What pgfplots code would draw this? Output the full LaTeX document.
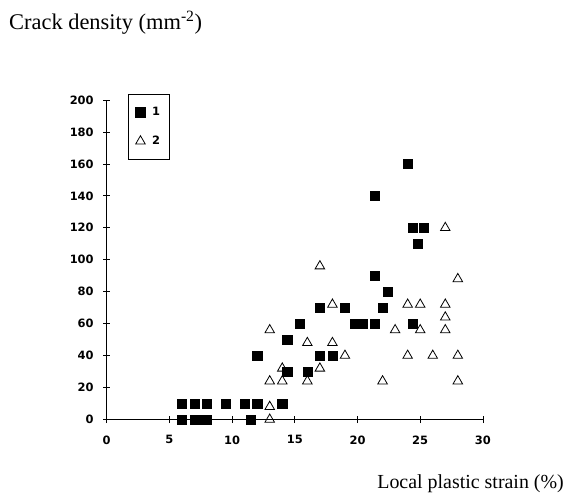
\documentclass[border=0pt]{standalone}
\usepackage{fontspec}
\setmainfont{Liberation Serif}
\newfontfamily\tickfont{DejaVu Sans}
\usepackage{pgfplots}
\pgfplotsset{compat=1.18}
\begin{document}
\begin{tikzpicture}
\useasboundingbox (0,0) rectangle (570bp,493bp);
\begin{axis}[
  at={(106.7bp,73.5bp)}, anchor=origin,
  x=12.54bp, y=1.5975bp,
  xmin=0, xmax=30, ymin=0, ymax=200,
  axis lines=left,
  axis line style={-, line width=0.8bp},
  xtick={0,5,...,30}, ytick={0,20,...,200},
  tick align=center, major tick length=7bp,
  tick style={line width=0.7bp, black},
  /pgf/number format/assume math mode=true,
  ticklabel style={font=\tickfont\bfseries\fontsize{11.5}{13}\selectfont},
  xticklabel style={yshift=-9bp},
  yticklabel style={xshift=-6bp},
  clip=false,
  legend style={at={(0.0574,1.0188)}, anchor=north west, draw=black, line width=0.8bp,
    font=\tickfont\bfseries\fontsize{11.5}{13}\selectfont,
    inner xsep=7bp, inner ysep=11bp, row sep=15bp, cells={anchor=west}},
  legend cell align=left,
]
\addplot[only marks, mark=square*, mark size=4.6bp, mark options={fill=black, draw=black}] coordinates {
(6,0)(7,0)(7.5,0)(8,0)(11.5,0)
(6,10)(7,10)(8,10)(9.5,10)(11,10)(12,10)(14,10)
(12,40)(14.4,30)(14.4,50)(15.4,60)(16,30)(17,40)(17,70)(18,40)(19,70)
(19.8,60)(20.4,60)(21.4,60)(21.4,140)(21.4,90)(22,70)(22.4,80)
(24,160)(24.4,120)(25.3,120)(24.8,110)(24.4,60)
};
\addlegendentry{\hspace{5bp}1\hspace{6bp}}
\addplot[only marks, mark=triangle, mark size=5.5bp, mark options={draw=black, line width=0.8bp, fill=white}] coordinates {
(13,56)(13,24)(13,8)(13,0)(14,32)(14,24)(16,48)(16,24)(17,96)(17,32)
(18,72)(18,48)(19,40)(22,24)(23,56)(24,72)(24,40)(25,72)(25,56)(26,40)
(27,120)(27,72)(27,64)(27,56)(28,88)(28,40)(28,24)
};
\addlegendentry{\hspace{5bp}2\hspace{6bp}}
\end{axis}
\node[anchor=base west, font=\fontsize{22.5}{26}\selectfont, inner sep=0pt] at (9bp,463.5bp) {Crack density (mm\textsuperscript{-2})};
\node[anchor=base east, font=\fontsize{20}{24}\selectfont, inner sep=0pt] at (564bp,4.5bp) {Local plastic strain (\%)};
\end{tikzpicture}
\end{document}
